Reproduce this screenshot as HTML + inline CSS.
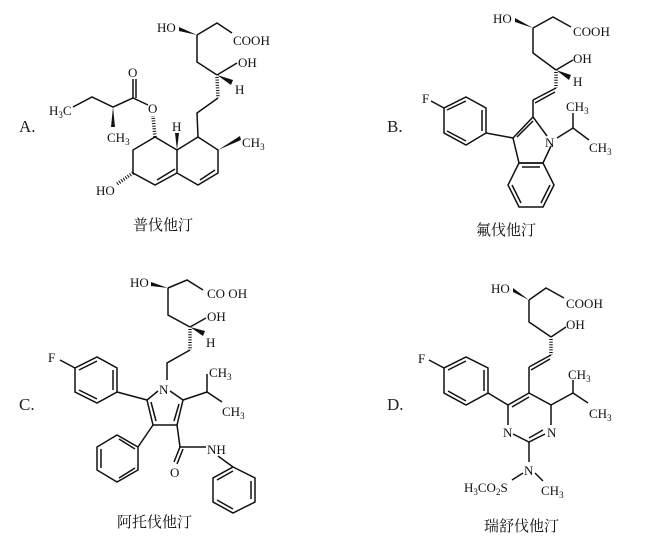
<!DOCTYPE html>
<html><head><meta charset="utf-8"><style>
html,body{margin:0;padding:0;background:#fff}
svg{display:block}
text{font-family:"Liberation Serif","Noto Serif CJK SC",serif;fill:#111}
.cn{font-family:"Liberation Serif","Noto Serif CJK SC",serif;font-size:15px}
.lb{font-size:17px;fill:#222}
line,polyline,polygon.r{stroke:#111;stroke-width:1.5;fill:none}
.h{stroke-width:3.5;stroke-dasharray:1 1.6}
.w{fill:#111;stroke:none}
</style></head><body>
<svg width="652" height="544" viewBox="0 0 652 544" font-size="13">
<!-- ===== A ===== -->
<text x="19" y="132" class="lb">A.</text>
<text x="157" y="32">HO</text>
<polygon class="w" points="179,27 197,35 179,31"/>
<polyline points="197,35 217,23 232,33"/>
<text x="233" y="45">COOH</text>
<polyline points="197,35 197,62 217,75"/>
<line x1="217" y1="75" x2="237" y2="63"/>
<text x="238" y="67">OH</text>
<polygon class="w" points="217,75 233,80 231,85"/>
<text x="235" y="94">H</text>
<line class="h" x1="217" y1="77" x2="218" y2="98"/>
<polyline points="218,98 197,113 198,137"/>
<polygon class="r" points="198,137 218,150 218,173 198,185 177,173 177,150"/>
<polyline points="177,150 155,137 133,150 133,173 155,185 177,173"/>
<line x1="157" y1="180" x2="175" y2="169"/>
<line x1="200" y1="180" x2="215" y2="170"/>
<polygon class="w" points="177,150 175,133 179,133"/>
<text x="172" y="131">H</text>
<polygon class="w" points="218,150 240,136 241,140"/>
<text x="242" y="147">CH<tspan font-size="9" dy="3">3</tspan></text>
<line class="h" x1="155" y1="137" x2="153" y2="116"/>
<text x="148" y="113">O</text>
<polyline points="148,105 133,98 113,107 92,97 73,107"/>
<line x1="133" y1="98" x2="133" y2="79"/><line x1="136" y1="98" x2="136" y2="79"/>
<text x="128" y="77">O</text>
<polygon class="w" points="113,107 111,127 115,127"/>
<text x="107" y="142">CH<tspan font-size="9" dy="3">3</tspan></text>
<text x="49" y="115">H<tspan font-size="9" dy="3">3</tspan><tspan dy="-3">C</tspan></text>
<line class="h" x1="133" y1="173" x2="117" y2="184"/>
<text x="96" y="195">HO</text>
<text x="133" y="230" class="cn">普伐他汀</text>

<!-- ===== B ===== -->
<text x="387" y="132" class="lb">B.</text>
<text x="493" y="23">HO</text>
<polygon class="w" points="515,18 533,28 515,22"/>
<polyline points="533,28 553,17 571,27"/>
<text x="573" y="36">COOH</text>
<polyline points="533,28 533,53 556,70"/>
<line x1="556" y1="70" x2="573" y2="60"/>
<text x="573" y="63">OH</text>
<polygon class="w" points="556,70 571,75 569,80"/>
<text x="573" y="86">H</text>
<line class="h" x1="556" y1="72" x2="556" y2="88"/>
<line x1="556" y1="88" x2="533" y2="100"/><line x1="555" y1="92" x2="535" y2="103"/>
<line x1="533" y1="100" x2="533" y2="117"/>
<polyline points="533,117 547,136"/>
<polyline points="551,146 543,163 519,163 513,138 533,117"/>
<line x1="517" y1="137" x2="533" y2="121"/>
<polygon class="r" points="519,163 508,185 519,207 543,207 554,185 543,163"/>
<line x1="512" y1="185" x2="521" y2="203"/><line x1="541" y1="203" x2="550" y2="185"/><line x1="522" y1="167" x2="540" y2="167"/>
<line x1="513" y1="138" x2="486" y2="133"/>
<polygon class="r" points="466,97 486,108 486,133 466,145 444,133 444,108"/>
<line x1="482" y1="110" x2="482" y2="131"/><line x1="466" y1="141" x2="447" y2="131"/><line x1="447" y1="110" x2="466" y2="101"/>
<line x1="444" y1="108" x2="431" y2="101"/>
<text x="422" y="103">F</text>
<text x="545" y="147">N</text>
<polyline points="557,138 573,128 589,140"/>
<line x1="573" y1="128" x2="573" y2="113"/>
<text x="566" y="111">CH<tspan font-size="9" dy="3">3</tspan></text>
<text x="589" y="152">CH<tspan font-size="9" dy="3">3</tspan></text>
<text x="476" y="235" class="cn">氟伐他汀</text>

<!-- ===== C ===== -->
<text x="19" y="410" class="lb">C.</text>
<text x="130" y="287">HO</text>
<polygon class="w" points="151,282 168,288 151,286"/>
<polyline points="168,288 187,280 203,290"/>
<text x="207" y="298">CO OH</text>
<polyline points="168,288 168,315 190,327"/>
<line x1="190" y1="327" x2="206" y2="318"/>
<text x="207" y="321">OH</text>
<polygon class="w" points="190,327 205,331 203,336"/>
<text x="206" y="347">H</text>
<line class="h" x1="190" y1="329" x2="190" y2="350"/>
<polyline points="190,350 167,363 167,380"/>
<text x="159" y="394">N</text>
<polyline points="170,391 183,400 177,425 153,425 147,400 158,391"/>
<line x1="151" y1="402" x2="156" y2="421"/><line x1="179" y1="404" x2="174" y2="421"/>
<line x1="147" y1="400" x2="117" y2="392"/>
<polygon class="r" points="117,392 117,368 97,357 75,368 75,392 97,403"/>
<line x1="113" y1="370" x2="113" y2="390"/><line x1="79" y1="390" x2="97" y2="399"/><line x1="79" y1="370" x2="97" y2="361"/>
<line x1="75" y1="368" x2="60" y2="360"/>
<text x="48" y="362">F</text>
<polyline points="183,400 207,392 222,402"/>
<line x1="207" y1="392" x2="207" y2="374"/>
<text x="209" y="377">CH<tspan font-size="9" dy="3">3</tspan></text>
<text x="222" y="416">CH<tspan font-size="9" dy="3">3</tspan></text>
<line x1="153" y1="425" x2="138" y2="447"/>
<polygon class="r" points="138,447 117,435 97,447 97,470 117,482 138,470"/>
<line x1="101" y1="449" x2="101" y2="468"/><line x1="119" y1="478" x2="135" y2="468"/><line x1="119" y1="439" x2="135" y2="449"/>
<line x1="177" y1="425" x2="180" y2="447"/>
<line x1="180" y1="447" x2="174" y2="462"/><line x1="183" y1="449" x2="177" y2="464"/>
<text x="170" y="477">O</text>
<line x1="180" y1="447" x2="206" y2="447"/>
<text x="207" y="454">NH</text>
<line x1="218" y1="456" x2="233" y2="467"/>
<polygon class="r" points="233,467 255,478 255,502 233,513 213,502 213,478"/>
<line x1="251" y1="481" x2="251" y2="499"/><line x1="217" y1="500" x2="233" y2="509"/><line x1="217" y1="480" x2="233" y2="471"/>
<text x="117" y="527" class="cn">阿托伐他汀</text>

<!-- ===== D ===== -->
<text x="387" y="410" class="lb">D.</text>
<text x="491" y="293">HO</text>
<polygon class="w" points="513,288 529,300 513,292"/>
<polyline points="529,300 546,288 564,298"/>
<text x="566" y="308">COOH</text>
<polyline points="529,300 529,322 551,337"/>
<line x1="551" y1="337" x2="566" y2="327"/>
<text x="566" y="329">OH</text>
<line class="h" x1="551" y1="339" x2="551" y2="355"/>
<line x1="551" y1="355" x2="529" y2="367"/><line x1="550" y1="359" x2="531" y2="370"/>
<line x1="529" y1="367" x2="529" y2="393"/>
<polyline points="529,393 508,405 508,425"/>
<polyline points="513,434 529,442 545,434"/>
<polyline points="551,425 551,405 529,393"/>
<line x1="512" y1="407" x2="529" y2="397"/><line x1="529" y1="438" x2="543" y2="430"/>
<text x="503" y="437">N</text><text x="547" y="437">N</text>
<line x1="508" y1="405" x2="488" y2="393"/>
<polygon class="r" points="488,393 488,368 466,357 444,368 444,393 466,405"/>
<line x1="484" y1="370" x2="484" y2="391"/><line x1="448" y1="391" x2="466" y2="401"/><line x1="448" y1="370" x2="466" y2="361"/>
<line x1="444" y1="368" x2="429" y2="360"/>
<text x="418" y="363">F</text>
<polyline points="551,405 573,393 588,403"/>
<line x1="573" y1="393" x2="573" y2="380"/>
<text x="568" y="379">CH<tspan font-size="9" dy="3">3</tspan></text>
<text x="589" y="418">CH<tspan font-size="9" dy="3">3</tspan></text>
<line x1="529" y1="442" x2="529" y2="462"/>
<text x="524" y="475">N</text>
<line x1="523" y1="473" x2="512" y2="480"/><line x1="535" y1="473" x2="543" y2="481"/>
<text x="464" y="492">H<tspan font-size="9" dy="3">3</tspan><tspan dy="-3">CO</tspan><tspan font-size="9" dy="3">2</tspan><tspan dy="-3">S</tspan></text>
<text x="541" y="495">CH<tspan font-size="9" dy="3">3</tspan></text>
<text x="484" y="531" class="cn">瑞舒伐他汀</text>
</svg>
</body></html>
